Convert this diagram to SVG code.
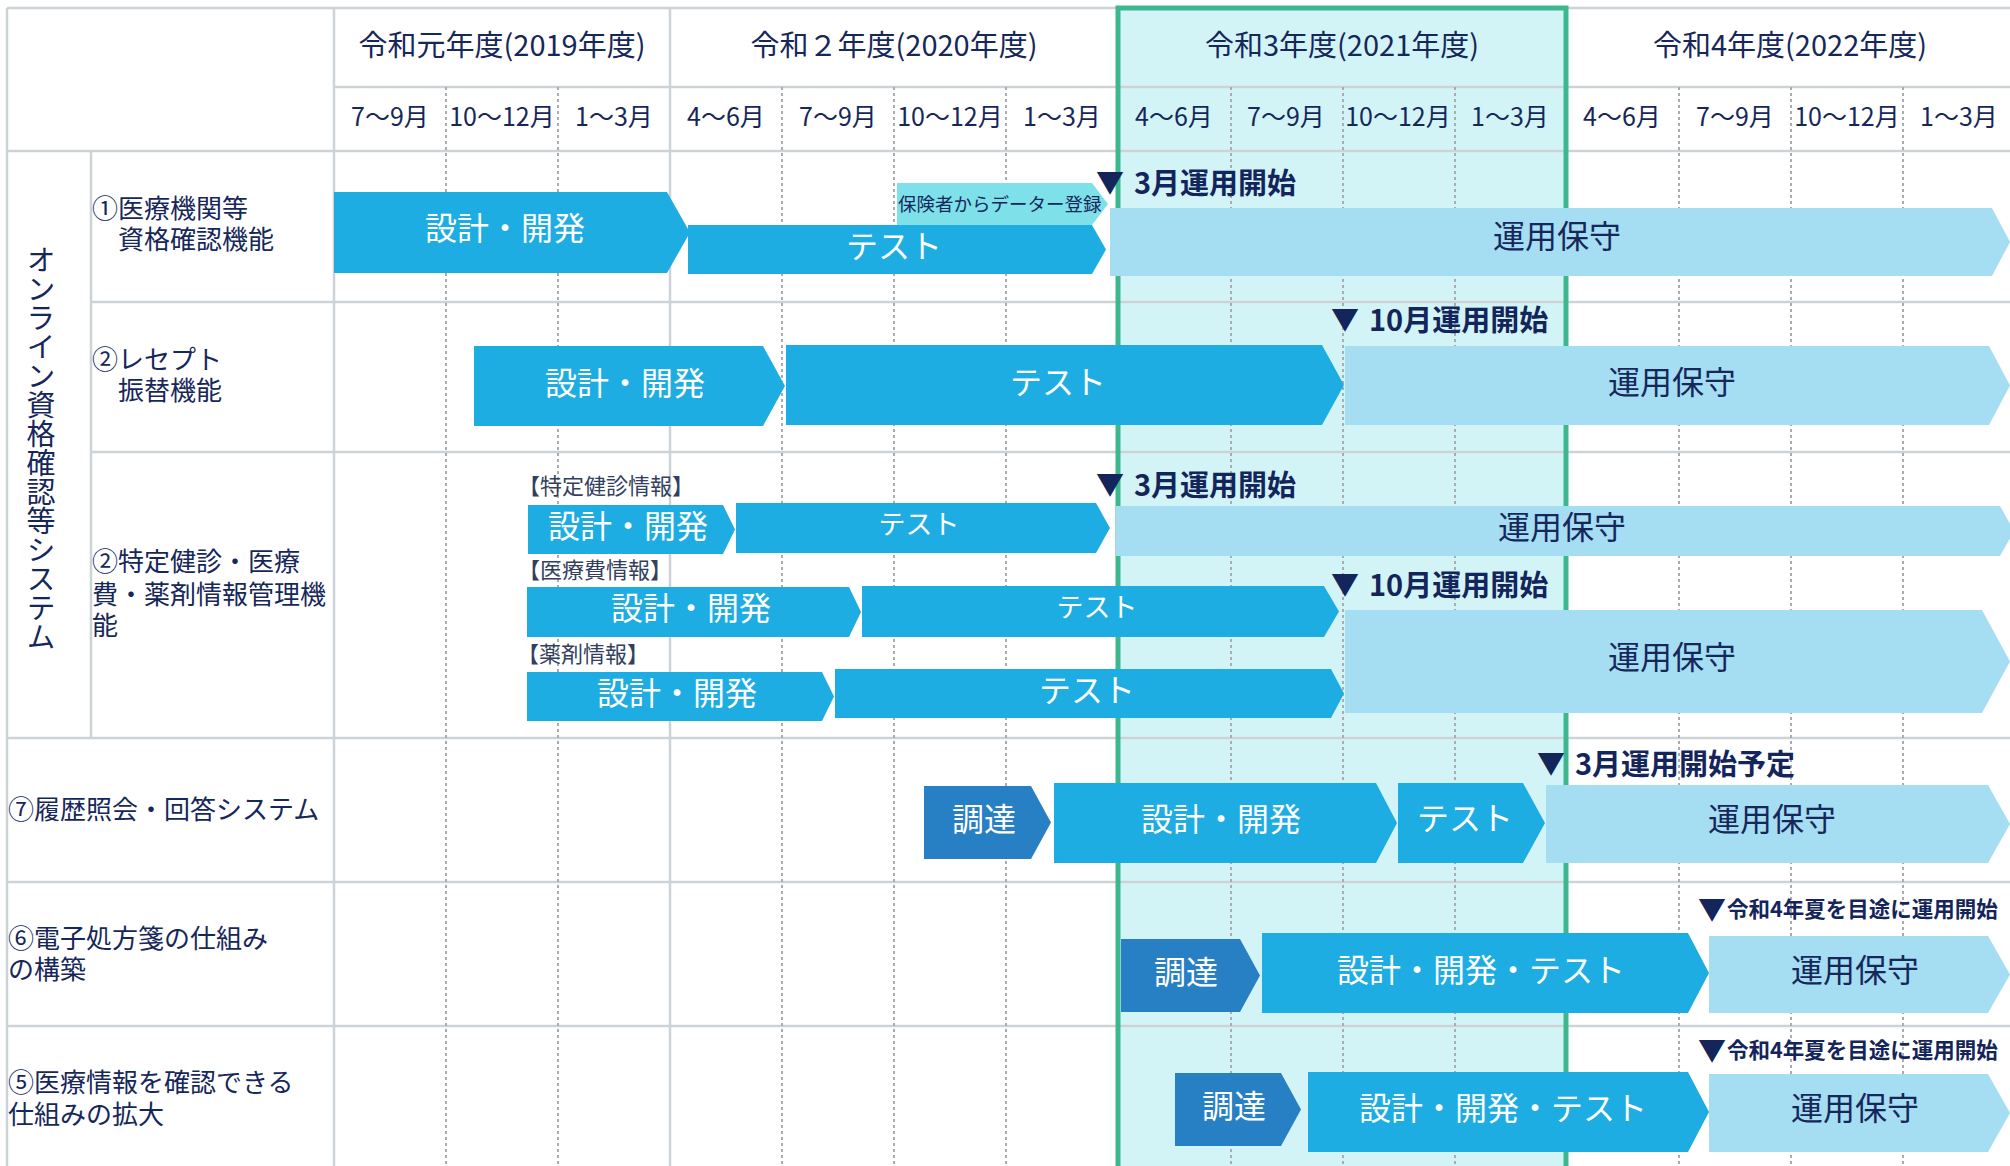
<svg xmlns="http://www.w3.org/2000/svg" width="2010" height="1166" viewBox="0 0 2010 1166">
<style>
text{font-family:"Noto Sans CJK JP","Noto Sans",sans-serif;fill:#16275a;transform:translateY(-2.5px)}
.g{stroke:#cdd2d6;stroke-width:2.5;fill:none}
.d{stroke:#a9adb2;stroke-width:2;stroke-dasharray:3 3;fill:none}
.b{fill:#1eade3}.l{fill:#a5ddf3}.p{fill:#2880c4}.c{fill:#7ee0e8}
.yr{font-size:29px;text-anchor:middle;dominant-baseline:central}
.mo{font-size:25px;text-anchor:middle;dominant-baseline:central}
text.lb{font-family:"Liberation Sans","Noto Sans CJK JP",sans-serif;font-size:26px;dominant-baseline:central;transform:translateY(1px)}
.w{font-size:32px;fill:#fff;text-anchor:middle;dominant-baseline:central}
.ws{font-size:27px;fill:#fff;text-anchor:middle;dominant-baseline:central}
.n{font-size:32px;fill:#16275a;text-anchor:middle;dominant-baseline:central}
.m{font-size:29px;font-weight:bold;dominant-baseline:central;fill:#13255a}
.ms{font-size:21.5px;font-weight:bold;dominant-baseline:central;fill:#13255a}
.tri{font-size:28px;font-weight:bold;dominant-baseline:central;fill:#13255a}
.sub{font-size:22px;fill:#333f5e;dominant-baseline:central}
</style>
<rect width="2010" height="1166" fill="#fff"/>
<rect x="1118" y="8" width="448" height="1170" fill="#d3f4f7"/>
<g id="grid">
<path class="g" d="M7,8H2010M334,87H2010M7,151H2010M91,302H2010M91,452H2010M7,738H2010M7,882H2010M7,1026H2010M7,8V1166M91,151V738M334,8V1166M670,8V1166"/>
<path class="d" d="M446,87V1166M558,87V1166M782,87V1166M894,87V1166M1006,87V1166M1231,87V1166M1343,87V1166M1455,87V1166M1679,87V1166M1791,87V1166M1903,87V1166"/>
<rect x="1118" y="8" width="448" height="1170" fill="none" stroke="#3db88e" stroke-width="5"/>
</g>
<g id="header">
<text class="yr" x="502" y="45">令和元年度(2019年度)</text>
<text class="yr" x="894" y="45">令和２年度(2020年度)</text>
<text class="yr" x="1342" y="45">令和3年度(2021年度)</text>
<text class="yr" x="1790" y="45">令和4年度(2022年度)</text>
<text class="mo" x="390" y="117">7～9月</text>
<text class="mo" x="502" y="117">10～12月</text>
<text class="mo" x="614" y="117">1～3月</text>
<text class="mo" x="726" y="117">4～6月</text>
<text class="mo" x="838" y="117">7～9月</text>
<text class="mo" x="950" y="117">10～12月</text>
<text class="mo" x="1062" y="117">1～3月</text>
<text class="mo" x="1174" y="117">4～6月</text>
<text class="mo" x="1286" y="117">7～9月</text>
<text class="mo" x="1398" y="117">10～12月</text>
<text class="mo" x="1510" y="117">1～3月</text>
<text class="mo" x="1622" y="117">4～6月</text>
<text class="mo" x="1735" y="117">7～9月</text>
<text class="mo" x="1847" y="117">10～12月</text>
<text class="mo" x="1959" y="117">1～3月</text>
</g>
<g id="labels">
<text x="41" y="248" style="writing-mode:vertical-rl;font-size:29px">オンライン資格確認等システム</text>
<text class="lb"><tspan x="92" y="207.5">①医療機関等</tspan><tspan x="118" y="239">資格確認機能</tspan></text>
<text class="lb"><tspan x="92" y="359">②レセプト</tspan><tspan x="118" y="390">振替機能</tspan></text>
<text class="lb"><tspan x="92" y="561">②特定健診・医療</tspan><tspan x="92" y="593.5">費・薬剤情報管理機</tspan><tspan x="92" y="625">能</tspan></text>
<text class="lb" x="8" y="808.5">⑦履歴照会・回答システム</text>
<text class="lb"><tspan x="8" y="937.5">⑥電子処方箋の仕組み</tspan><tspan x="8" y="969">の構築</tspan></text>
<text class="lb"><tspan x="8" y="1081.5">⑤医療情報を確認できる</tspan><tspan x="8" y="1114">仕組みの拡大</tspan></text>
</g>
<g id="row1">
<polygon class="b" points="334,192 667,192 690,232.5 667,273 334,273"/>
<text class="w" x="505" y="228">設計・開発</text>
<polygon class="c" points="897,183 1092,183 1108,204 1092,225 897,225"/>
<text x="898" y="205" style="font-size:18.5px;dominant-baseline:central">保険者からデーター登録</text>
<polygon class="b" points="688,225 1092,225 1106,249.5 1092,274 688,274"/>
<text class="w" x="894" y="246">テスト</text>
<polygon class="l" points="1110,208 1992,208 2010,242 1992,276 1110,276"/>
<text class="n" x="1557" y="236">運用保守</text>
<text class="tri" x="1096" y="183">▼</text><text class="m" x="1134" y="183">3月運用開始</text>
</g>
<g id="row2">
<polygon class="b" points="474,346 763,346 785,386 763,426 474,426"/>
<text class="w" x="625" y="383">設計・開発</text>
<polygon class="b" points="786,345 1322,345 1344,385 1322,425 786,425"/>
<text class="w" x="1058" y="382">テスト</text>
<polygon class="l" points="1345,346 1989,346 2010,385.5 1989,425 1345,425"/>
<text class="n" x="1672" y="382">運用保守</text>
<text class="tri" x="1331" y="320">▼</text><text class="m" x="1369" y="320">10月運用開始</text>
</g>
<g id="row3">
<text class="sub" x="518" y="486">【特定健診情報】</text>
<polygon class="b" points="528,505 723,505 735,529.5 723,554 528,554"/>
<text class="w" x="628" y="526">設計・開発</text>
<polygon class="b" points="736,503 1096,503 1110,528 1096,553 736,553"/>
<text class="ws" x="919" y="525">テスト</text>
<polygon class="l" points="1116,506 2000,506 2014,531 2000,556 1116,556"/>
<text class="n" x="1562" y="527">運用保守</text>
<text class="tri" x="1096" y="485">▼</text><text class="m" x="1134" y="485">3月運用開始</text>
<text class="sub" x="518" y="570">【医療費情報】</text>
<polygon class="b" points="527,587 849,587 861,612 849,637 527,637"/>
<text class="w" x="691" y="608">設計・開発</text>
<polygon class="b" points="862,586 1324,586 1339,611.5 1324,637 862,637"/>
<text class="ws" x="1097" y="608">テスト</text>
<text class="tri" x="1331" y="585">▼</text><text class="m" x="1369" y="585">10月運用開始</text>
<text class="sub" x="517" y="654">【薬剤情報】</text>
<polygon class="b" points="527,672 822,672 834,696.5 822,721 527,721"/>
<text class="w" x="677" y="693.5">設計・開発</text>
<polygon class="b" points="835,669 1331,669 1344,693.5 1331,718 835,718"/>
<text class="w" x="1087" y="690">テスト</text>
<polygon class="l" points="1345,610 1982,610 2010,661.5 1982,713 1345,713"/>
<text class="n" x="1672" y="657">運用保守</text>
</g>
<g id="row7">
<polygon class="p" points="924,786 1031,786 1051,822.5 1031,859 924,859"/>
<text class="w" x="984" y="819">調達</text>
<polygon class="b" points="1054,783 1376,783 1397,823 1376,863 1054,863"/>
<text class="w" x="1221" y="819.5">設計・開発</text>
<polygon class="b" points="1398,783 1523,783 1545,823 1523,863 1398,863"/>
<text class="w" x="1465" y="818.5">テスト</text>
<polygon class="l" points="1546,785 1988,785 2010,824 1988,863 1546,863"/>
<text class="n" x="1772" y="819.5">運用保守</text>
<text class="tri" x="1537" y="764">▼</text><text class="m" x="1575" y="764">3月運用開始予定</text>
</g>
<g id="row6">
<polygon class="p" points="1121,939 1240,939 1260,975.5 1240,1012 1121,1012"/>
<text class="w" x="1186" y="972">調達</text>
<polygon class="b" points="1262,933 1688,933 1709,973 1688,1013 1262,1013"/>
<text class="w" x="1481" y="970">設計・開発・テスト</text>
<polygon class="l" points="1709,936 1988,936 2010,974.5 1988,1013 1709,1013"/>
<text class="n" x="1855" y="970.5">運用保守</text>
<text class="tri" x="1698" y="910">▼</text><text class="ms" x="1727" y="910">令和4年夏を目途に運用開始</text>
</g>
<g id="row5">
<polygon class="p" points="1175,1073 1281,1073 1301,1109.5 1281,1146 1175,1146"/>
<text class="w" x="1234" y="1106.5">調達</text>
<polygon class="b" points="1308,1072 1688,1072 1709,1112 1688,1152 1308,1152"/>
<text class="w" x="1503" y="1108.5">設計・開発・テスト</text>
<polygon class="l" points="1709,1074 1988,1074 2010,1113 1988,1152 1709,1152"/>
<text class="n" x="1855" y="1108.5">運用保守</text>
<text class="tri" x="1698" y="1051">▼</text><text class="ms" x="1727" y="1051">令和4年夏を目途に運用開始</text>
</g>
<g id="connectors"/>
</svg>
